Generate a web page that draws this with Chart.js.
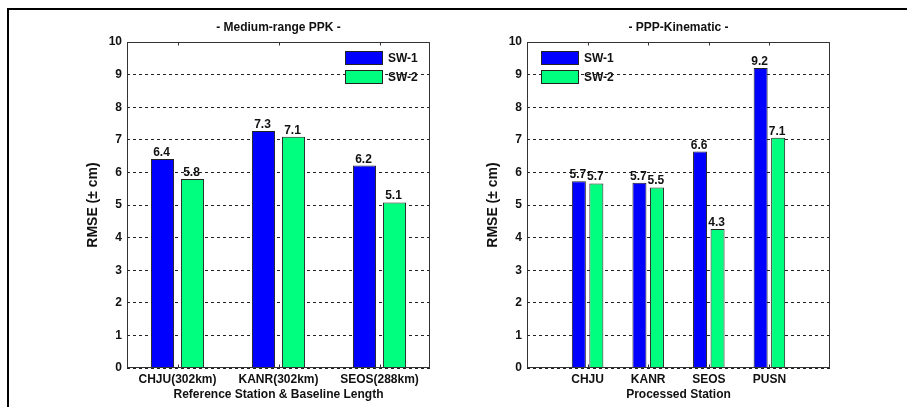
<!DOCTYPE html>
<html>
<head>
<meta charset="utf-8">
<script src="https://cdn.jsdelivr.net/npm/chart.js@4.4.0/dist/chart.umd.min.js"></script>
<style>
  html, body { margin: 0; padding: 0; background: #fff; }
  #wrap { position: relative; width: 907px; height: 407px; overflow: hidden; }
  #frame { position: absolute; left: 7px; top: 8px; width: 920px; height: 420px; border-top: 2px solid #000; border-left: 2px solid #000; }
  .box { position: absolute; top: 0; height: 407px; }
</style>
</head>
<body>
<div id="wrap">
  <div id="frame"></div>
  <div class="box" style="left:0;width:453px"><canvas id="chartPpk" width="453" height="407"></canvas></div>
  <div class="box" style="left:453px;width:454px"><canvas id="chartPpp" width="454" height="407"></canvas></div>
</div>
<script>
const seriesNames = ["SW-1", "SW-2"];
const seriesColors = ["#0000ff", "#00ff7f"];

// left panel: medium-range PPK
const ppkStations = ["CHJU(302km)", "KANR(302km)", "SEOS(288km)"];
const ppkSw1 = [6.41, 7.27, 6.21];
const ppkSw2 = [5.8, 7.09, 5.08];

// right panel: PPP kinematic
const pppStations = ["CHJU", "KANR", "SEOS", "PUSN"];
const pppSw1 = [5.73, 5.68, 6.64, 9.2];
const pppSw2 = [5.66, 5.54, 4.26, 7.06];

const FONT = '"Liberation Sans", Arial, Helvetica, sans-serif';
const TEXT = "#111";

// plot box + small inside ticks at the stations
const framePlugin = {
  id: "frame",
  afterDatasetsDraw(chart) {
    const a = chart.chartArea;
    const ctx = chart.ctx;
    const l = Math.round(a.left) + 0.5, r = Math.round(a.right) - 0.5;
    const t = Math.round(a.top) + 0.5, b = Math.round(a.bottom) - 0.5;
    ctx.save();
    ctx.strokeStyle = "#333";
    ctx.lineWidth = 1;
    ctx.strokeRect(l, t, r - l, b - t);
    chart.scales.x.ticks.forEach((tk) => {
      const x = Math.round(chart.scales.x.getPixelForValue(tk.value)) + 0.5;
      ctx.beginPath();
      ctx.moveTo(x, t); ctx.lineTo(x, t + 3);
      ctx.moveTo(x, b); ctx.lineTo(x, b - 3);
      ctx.stroke();
    });
    ctx.restore();
  },
};

// numbers above the bars
const valueLabels = {
  id: "valueLabels",
  afterDatasetsDraw(chart) {
    const ctx = chart.ctx;
    ctx.save();
    ctx.font = "bold 12px " + FONT;
    ctx.fillStyle = TEXT;
    ctx.textAlign = "center";
    ctx.textBaseline = "alphabetic";
    chart.data.datasets.forEach((ds, i) => {
      chart.getDatasetMeta(i).data.forEach((bar, j) => {
        ctx.fillText(ds.data[j].y.toFixed(1), bar.x - 1, bar.y - 3);
      });
    });
    ctx.restore();
  },
};

// MATLAB-like legend inside the axes
const boxLegend = {
  id: "boxLegend",
  afterDatasetsDraw(chart, args, opts) {
    const a = chart.chartArea;
    const ctx = chart.ctx;
    const x0 = opts.side === "right" ? Math.round(a.right) - 85 : Math.round(a.left) + 14;
    ctx.save();
    chart.data.datasets.forEach((ds, i) => {
      const y0 = Math.round(a.top) + 9 + i * 19;
      ctx.fillStyle = ds.backgroundColor;
      ctx.fillRect(x0, y0, 38, 14);
      ctx.strokeStyle = "#222";
      ctx.lineWidth = 1;
      ctx.strokeRect(x0 + 0.5, y0 + 0.5, 37, 13);
      ctx.fillStyle = TEXT;
      ctx.font = "bold 12px " + FONT;
      ctx.textAlign = "left";
      ctx.textBaseline = "middle";
      ctx.fillText(ds.label, x0 + 43, y0 + 7.5);
    });
    ctx.restore();
  },
};

function makeDataset(idx, stations, values, catPct, barPct) {
  return {
    label: seriesNames[idx],
    data: stations.map((s, i) => ({ x: i + 1, y: values[i] })),
    backgroundColor: seriesColors[idx],
    borderColor: "#222",
    borderWidth: 1,
    categoryPercentage: catPct,
    barPercentage: barPct,
  };
}

function drawPanel(canvasId, cfg) {
  const ctx = document.getElementById(canvasId).getContext("2d");
  return new Chart(ctx, {
    type: "bar",
    data: {
      datasets: [
        makeDataset(0, cfg.stations, cfg.sw1, cfg.catPct, cfg.barPct),
        makeDataset(1, cfg.stations, cfg.sw2, cfg.catPct, cfg.barPct),
      ],
    },
    options: {
      responsive: false,
      animation: false,
      layout: { padding: { left: cfg.padLeft, right: cfg.padRight, top: 0, bottom: 0 } },
      plugins: {
        legend: { display: false },
        tooltip: { enabled: false },
        title: {
          display: true,
          text: cfg.title,
          fullSize: false,
          color: TEXT,
          font: { family: FONT, size: 12, weight: "bold" },
          padding: { top: 20, bottom: 7.6 },
        },
        boxLegend: { side: cfg.legendSide },
      },
      scales: {
        x: {
          type: "linear",
          offset: false,
          min: cfg.xMin,
          max: cfg.xMax,
          afterBuildTicks: (s) => {
            s.ticks = cfg.stations.map((n, i) => ({ value: i + 1 }));
          },
          afterFit: (s) => {
            s.height = 39;
          },
          grid: { display: false, drawTicks: false },
          border: { display: false },
          ticks: {
            autoSkip: false,
            maxRotation: 0,
            padding: 4,
            color: TEXT,
            font: { family: FONT, size: 12, weight: "bold" },
            callback: (v) => cfg.stations[v - 1],
          },
          title: {
            display: true,
            text: cfg.xTitle,
            color: TEXT,
            font: { family: FONT, size: 12, weight: "bold" },
            padding: { top: 0, bottom: 5 },
          },
        },
        y: {
          min: 0,
          max: 10,
          afterFit: (s) => {
            s.width = 57;
          },
          ticks: {
            stepSize: 1,
            padding: 5,
            color: TEXT,
            font: { family: FONT, size: 12, weight: "bold" },
          },
          grid: { color: "#222", lineWidth: 1, drawTicks: false },
          border: { display: false, dash: [3, 3] },
          title: {
            display: true,
            text: "RMSE (\u00b1 cm)",
            color: TEXT,
            font: { family: FONT, size: 14, weight: "bold" },
            padding: { top: 15, bottom: 0 },
          },
        },
      },
    },
    plugins: [framePlugin, valueLabels, boxLegend],
  });
}

drawPanel("chartPpk", {
  title: "- Medium-range PPK -",
  xTitle: "Reference Station & Baseline Length",
  stations: ppkStations,
  sw1: ppkSw1,
  sw2: ppkSw2,
  xMin: 0.5,
  xMax: 3.5,
  catPct: 0.594,
  barPct: 0.77,
  padLeft: 70,
  padRight: 23,
  legendSide: "right",
});

drawPanel("chartPpp", {
  title: "- PPP-Kinematic -",
  xTitle: "Processed Station",
  stations: pppStations,
  sw1: pppSw1,
  sw2: pppSw2,
  xMin: 0,
  xMax: 5,
  catPct: 0.578,
  barPct: 0.8,
  padLeft: 17,
  padRight: 77,
  legendSide: "left",
});
</script>
</body>
</html>
